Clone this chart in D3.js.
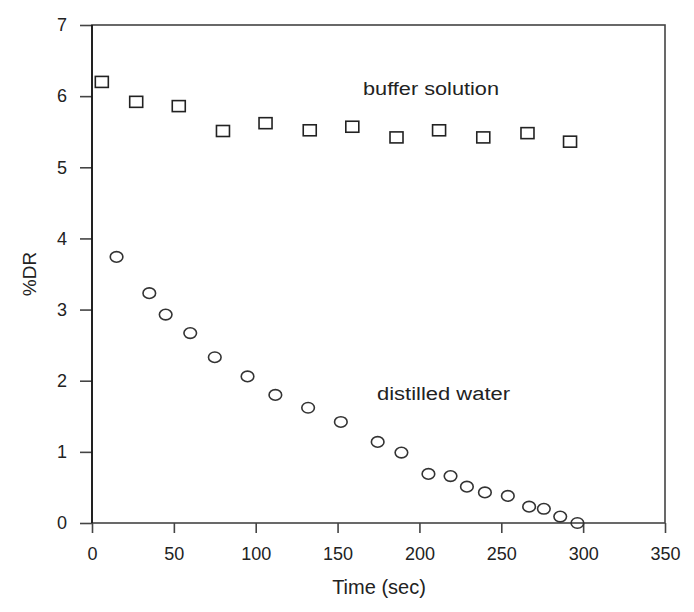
<!DOCTYPE html>
<html>
<head>
<meta charset="utf-8">
<script src="https://cdn.jsdelivr.net/npm/d3@7"></script>
<style>
  body { margin: 0; background: #fff; }
  svg { display: block; font-family: "Liberation Sans", Arial, sans-serif; }
  .axis path { display: none; }
  .axis line { stroke: #444; stroke-width: 1.6; }
  .axis text { fill: #222; font-size: 18px; }
</style>
</head>
<body>
<svg width="694" height="612"></svg>
<script>
// buffer solution (squares)
const bufferTime = [6, 27, 53, 80, 106, 133, 159, 186, 212, 239, 266, 292];
const bufferDR   = [6.2, 5.92, 5.86, 5.51, 5.62, 5.52, 5.57, 5.42, 5.52, 5.42, 5.48, 5.36];

// distilled water (circles)
const waterTime = [15, 35, 45, 60, 75, 95, 112, 132, 152, 174.5, 189, 205.5, 219, 229, 240, 254, 267, 276, 286, 296.5];
const waterDR   = [3.74, 3.23, 2.93, 2.67, 2.33, 2.06, 1.80, 1.62, 1.42, 1.14, 0.99, 0.69, 0.66, 0.51, 0.43, 0.38, 0.23, 0.20, 0.09, 0.0];

const xTicks = [0, 50, 100, 150, 200, 250, 300, 350];
const yTicks = [0, 1, 2, 3, 4, 5, 6, 7];

const svg = d3.select("svg");
const plotL = 92, plotR = 665, plotT = 25, plotB = 523;

const x = d3.scaleLinear().domain([0, 350]).range([plotL, plotR]);
const y = d3.scaleLinear().domain([0, 7]).range([plotB, plotT]);

// axes
svg.append("g")
    .attr("class", "axis")
    .attr("transform", `translate(0,${plotB})`)
    .call(d3.axisBottom(x).tickValues(xTicks).tickFormat(d3.format("d")).tickSize(10).tickPadding(14));

svg.append("g")
    .attr("class", "axis")
    .attr("transform", `translate(${plotL},0)`)
    .call(d3.axisLeft(y).tickValues(yTicks).tickFormat(d3.format("d")).tickSize(12).tickPadding(13));

// frame
svg.append("rect")
    .attr("x", plotL).attr("y", plotT)
    .attr("width", plotR - plotL).attr("height", plotB - plotT)
    .attr("fill", "none")
    .attr("stroke", "#444")
    .attr("stroke-width", 1.6);
svg.append("line")
    .attr("x1", plotL).attr("x2", plotL)
    .attr("y1", plotT).attr("y2", plotB)
    .attr("stroke", "#111").attr("stroke-width", 1.6);

// markers
const buffer = bufferTime.map((t, i) => ({ t, v: bufferDR[i] }));
const water = waterTime.map((t, i) => ({ t, v: waterDR[i] }));

svg.append("g").selectAll("rect")
    .data(buffer)
    .join("rect")
    .attr("x", d => x(d.t) - 6.5)
    .attr("y", d => y(d.v) - 5.5)
    .attr("width", 13)
    .attr("height", 11)
    .attr("fill", "none")
    .attr("stroke", "#222")
    .attr("stroke-width", 1.6);

svg.append("g").selectAll("ellipse")
    .data(water)
    .join("ellipse")
    .attr("cx", d => x(d.t))
    .attr("cy", d => y(d.v))
    .attr("rx", 6.3)
    .attr("ry", 5.3)
    .attr("fill", "none")
    .attr("stroke", "#333")
    .attr("stroke-width", 1.6);

// series labels
svg.append("text")
    .attr("x", 363).attr("y", 95)
    .attr("font-size", 18)
    .attr("textLength", 136)
    .attr("lengthAdjust", "spacingAndGlyphs")
    .attr("fill", "#222")
    .text("buffer solution");

svg.append("text")
    .attr("x", 377).attr("y", 400)
    .attr("font-size", 18)
    .attr("textLength", 133)
    .attr("lengthAdjust", "spacingAndGlyphs")
    .attr("fill", "#222")
    .text("distilled water");

// axis titles
svg.append("text")
    .attr("x", 379).attr("y", 594)
    .attr("text-anchor", "middle")
    .attr("font-size", 20)
    .attr("fill", "#222")
    .text("Time (sec)");

svg.append("text")
    .attr("transform", "translate(36,274) rotate(-90)")
    .attr("text-anchor", "middle")
    .attr("font-size", 19)
    .attr("fill", "#222")
    .text("%DR");
</script>
</body>
</html>
